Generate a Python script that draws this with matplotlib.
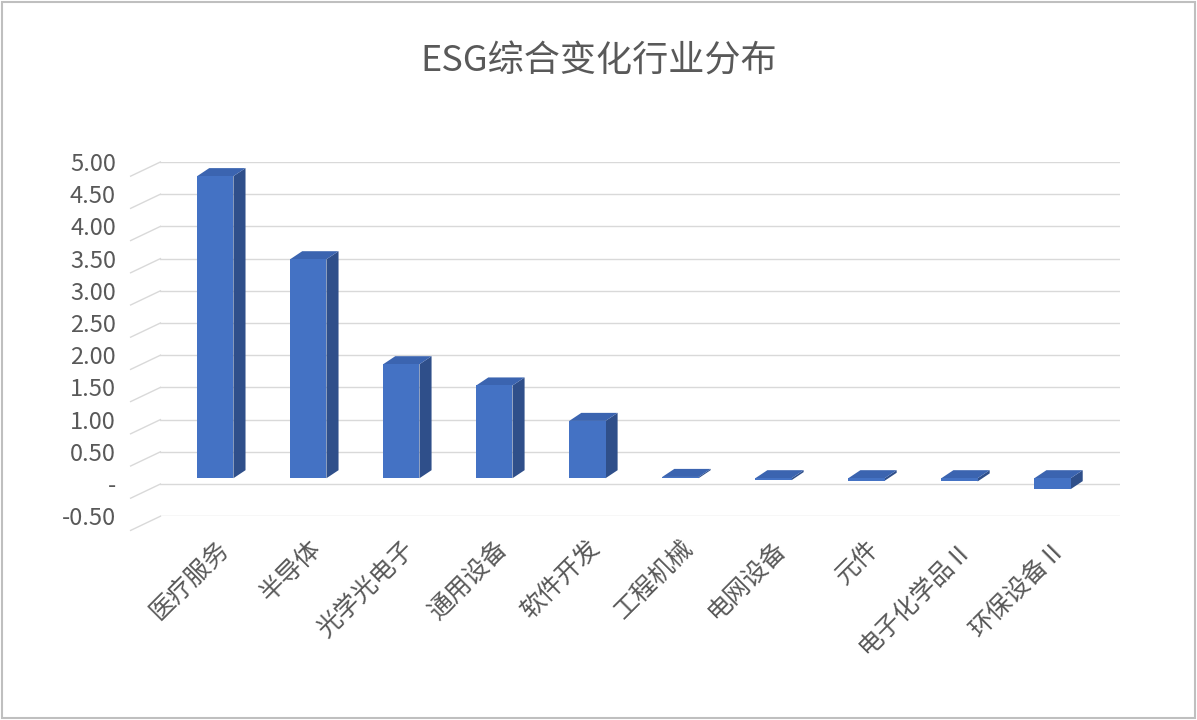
import matplotlib.pyplot as plt
from matplotlib.patches import Polygon, Rectangle

plt.rcParams['font.family'] = ['Noto Sans CJK SC', 'DejaVu Sans']

categories = ['医疗服务', '半导体', '光学光电子', '通用设备', '软件开发',
              '工程机械', '电网设备', '元件', '电子化学品Ⅱ', '环保设备Ⅱ']
values = [4.69, 3.40, 1.77, 1.44, 0.89, 0.02, -0.03, -0.04, -0.05, -0.17]
yticks = [-0.5, 0, 0.5, 1.0, 1.5, 2.0, 2.5, 3.0, 3.5, 4.0, 4.5, 5.0]
ytick_labels = ['-0.50', '-'] + [f'{v:.2f}' for v in yticks[2:]]

front = '#4472C4'
side = '#2F4F8A'
top = '#3B64B0'
width = 0.39
dx, dy = 0.13, 0.125
base = 0.09  # front face sits slightly above the back-wall gridline

fig = plt.figure(figsize=(11.97, 7.2), dpi=100)
ax = fig.add_axes([0.134, 0.283, 0.802, 0.492])
ax.set_xlim(-0.59, 9.73)
ax.set_ylim(-0.5, 5.0)

x0 = ax.get_xlim()[0]
for t in yticks:
    ax.axhline(t, color='#d9d9d9', lw=1, zorder=0)
    ax.plot([x0, x0 - 0.32], [t, t - 0.22], color='#d9d9d9', lw=1,
            clip_on=False, zorder=0)

for i, v in enumerate(values):
    l, r = i - width / 2, i + width / 2
    lo, hi = min(0, v) + base, max(0, v) + base
    ax.add_patch(Polygon([[r, lo], [r + dx, lo + dy], [r + dx, hi + dy], [r, hi]],
                         closed=True, fc=side, ec='none', zorder=3))
    ax.add_patch(Polygon([[l, hi], [l + dx, hi + dy], [r + dx, hi + dy], [r, hi]],
                         closed=True, fc=top, ec='none', zorder=3))
    ax.add_patch(Rectangle((l, lo), width, hi - lo, fc=front, ec='none', zorder=4))

ax.set_yticks(yticks)
ax.set_yticklabels(ytick_labels)
ax.set_xticks(range(len(categories)))
ax.set_xticklabels(categories, rotation=45, ha='right', rotation_mode='anchor')
ax.tick_params(axis='y', length=0, pad=32, labelsize=17, labelcolor='#595959')
ax.tick_params(axis='x', length=0, pad=14, labelsize=18, labelcolor='#595959')
for s in ax.spines.values():
    s.set_visible(False)

fig.text(0.5, 0.915, 'ESG综合变化行业分布', ha='center', va='center',
         fontsize=26, color='#595959')
fig.add_artist(Rectangle((0.002, 0.003), 0.996, 0.994, transform=fig.transFigure,
                         fill=False, ec='#bfbfbf', lw=1.5))

fig.savefig('out.png', dpi=100)
